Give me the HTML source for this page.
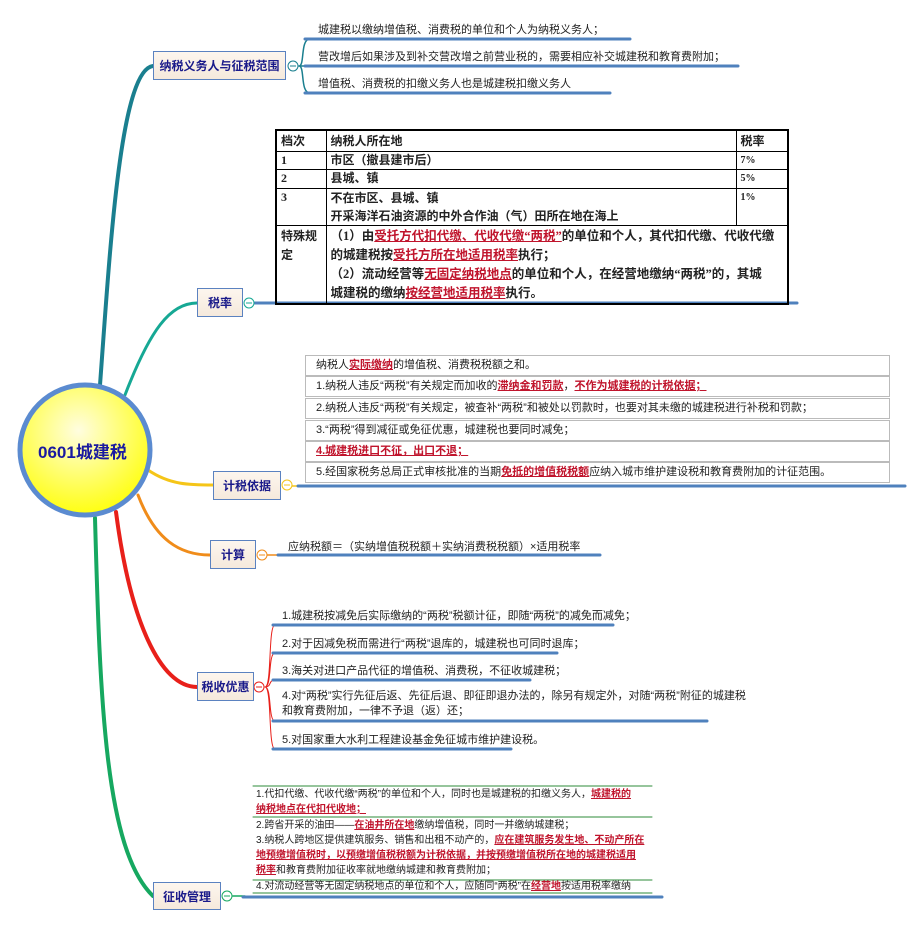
<!DOCTYPE html>
<html><head><meta charset="utf-8">
<style>
*{margin:0;padding:0;box-sizing:border-box}
body{width:918px;height:928px;background:#fff;position:relative;overflow:hidden;font-family:"Liberation Sans","Noto Sans CJK SC",sans-serif;color:#222}
.a{position:absolute;white-space:nowrap}
.node{position:absolute;border:1px solid #5b82c0;background:linear-gradient(#fdf6ee,#f5e9dc);color:#1a1a8a;font-weight:bold;font-size:12px;display:flex;align-items:center;justify-content:center}
.t{font-size:11px;color:#222}
.r{color:#c0142c;text-decoration:underline;font-weight:bold}
.ru{color:#c0142c;text-decoration:underline}
table{border-collapse:collapse;font-family:"Liberation Serif","Noto Sans CJK SC",sans-serif;font-weight:bold;font-size:12px;table-layout:fixed}
td{border:1px solid #000;padding:0 4px;vertical-align:top;line-height:17px;white-space:nowrap;overflow:hidden}
.box{position:absolute;left:305px;width:585px;border:1px solid #bbb;font-size:11px;padding-left:10px;line-height:19px;height:21px}
</style></head><body>
<svg width="918" height="928" style="position:absolute;left:0;top:0">
<g fill="none" stroke-linecap="round">
<path d="M100,385 C110,250 120,70 153,66" stroke="#1a7f8f" stroke-width="4"/>
<path d="M125,395 C150,330 170,303 197,303" stroke="#16a894" stroke-width="3"/>
<path d="M148,470 C170,485 190,485 213,485" stroke="#f5c518" stroke-width="3"/>
<path d="M138,495 C155,540 180,555 210,555" stroke="#f08c1a" stroke-width="3"/>
<path d="M116,512 C130,620 160,687 197,687" stroke="#e8201a" stroke-width="4"/>
<path d="M95,518 C100,700 105,850 153,896" stroke="#16a860" stroke-width="4"/>
<path d="M299,66 C305,66 300,39 310,39 M299,66 L310,66 M299,66 C305,66 300,93 310,93" stroke="#1a7f8f" stroke-width="1.5"/>
<path d="M305,39 H630 M305,66 H738 M305,93 H610" stroke="#4f81bd" stroke-width="3"/>
<path d="M255,303 H797" stroke="#4f81bd" stroke-width="3"/>
<path d="M292,486 H298" stroke="#f5c518" stroke-width="1.5"/>
<path d="M298,486 H905" stroke="#4f81bd" stroke-width="3"/>
<path d="M267,555 H278" stroke="#f08c1a" stroke-width="1.5"/>
<path d="M278,555 H600" stroke="#4f81bd" stroke-width="3"/>
<path d="M265,687 C272,687 268,625 275,625 M265,687 C272,687 268,653 275,653 M265,687 C272,687 268,680 275,680 M265,687 C272,687 268,721 275,721 M265,687 C272,687 268,749 275,749" stroke="#e8201a" stroke-width="1"/>
<path d="M273,625 H613 M273,653 H557 M273,680 H530 M273,721 H707 M273,749 H511" stroke="#4f81bd" stroke-width="3"/>
<path d="M233,896 H245" stroke="#16a860" stroke-width="1.5"/>
<path d="M243,897 H662" stroke="#4f81bd" stroke-width="3"/>
<path d="M253,786 H652 M253,817 H652 M253,880 H652 M253,893 H652" stroke="#2e8b3a" stroke-width="1"/>
</g>
<g fill="#fff" stroke-width="1">
<circle cx="293" cy="66" r="5" stroke="#1a7f8f"/><path d="M290,66H296" stroke="#1a7f8f"/>
<circle cx="249" cy="303" r="5" stroke="#16a894"/><path d="M246,303H252" stroke="#16a894"/>
<circle cx="287" cy="485" r="5" stroke="#f5c518"/><path d="M284,485H290" stroke="#f5c518"/>
<circle cx="262" cy="555" r="5" stroke="#f08c1a"/><path d="M259,555H265" stroke="#f08c1a"/>
<circle cx="259" cy="687" r="5" stroke="#e8201a"/><path d="M256,687H262" stroke="#e8201a"/>
<circle cx="227" cy="896" r="5" stroke="#16a860"/><path d="M224,896H230" stroke="#16a860"/>
</g>
<defs><radialGradient id="g" cx="45%" cy="35%" r="70%"><stop offset="0" stop-color="#fffde0"/><stop offset="1" stop-color="#ffff00"/></radialGradient></defs>
<circle cx="85" cy="450" r="65" fill="url(#g)" stroke="#5b8bd0" stroke-width="5"/>
</svg>
<div class="a" style="left:38px;top:438px;font-size:17px;font-weight:bold;color:#1a1aa0">0601城建税</div>

<div class="node" style="left:153px;top:51px;width:133px;height:29px">纳税义务人与征税范围</div>
<div class="node" style="left:197px;top:288px;width:46px;height:29px">税率</div>
<div class="node" style="left:213px;top:471px;width:68px;height:29px">计税依据</div>
<div class="node" style="left:210px;top:540px;width:46px;height:29px">计算</div>
<div class="node" style="left:197px;top:672px;width:57px;height:29px">税收优惠</div>
<div class="node" style="left:153px;top:882px;width:68px;height:28px">征收管理</div>

<div class="a t" style="left:318px;top:21px">城建税以缴纳增值税、消费税的单位和个人为纳税义务人；</div>
<div class="a t" style="left:318px;top:48px">营改增后如果涉及到补交营改增之前营业税的，需要相应补交城建税和教育费附加；</div>
<div class="a t" style="left:318px;top:75px">增值税、消费税的扣缴义务人也是城建税扣缴义务人</div>

<table style="position:absolute;left:275px;top:129px;width:514px;border:2px solid #000">
<colgroup><col style="width:50px"><col style="width:410px"><col style="width:52px"></colgroup>
<tr style="height:21px"><td style="padding-top:2px">档次</td><td style="padding-top:2px">纳税人所在地</td><td style="padding-top:2px">税率</td></tr>
<tr style="height:18px"><td>1</td><td>市区（撤县建市后）</td><td style="font-size:10px">7%</td></tr>
<tr style="height:19px"><td>2</td><td>县城、镇</td><td style="font-size:10px">5%</td></tr>
<tr style="height:37px"><td>3</td><td style="line-height:18px">不在市区、县城、镇<br>开采海洋石油资源的中外合作油（气）田所在地在海上</td><td style="font-size:10px">1%</td></tr>
<tr style="height:76px"><td style="white-space:normal;line-height:19px;padding-top:1px">特殊规定</td><td colspan="2" style="font-size:12.5px;line-height:19px;padding-top:1px">（1）由<span class="ru">受托方代扣代缴、代收代缴“两税”</span>的单位和个人，其代扣代缴、代收代缴<br>的城建税按<span class="ru">受托方所在地适用税率</span>执行；<br>（2）流动经营等<span class="ru">无固定纳税地点</span>的单位和个人，在经营地缴纳“两税”的，其城<br>城建税的缴纳<span class="ru">按经营地适用税率</span>执行。</td></tr>
</table>

<div class="box" style="top:355px">纳税人<span class="r">实际缴纳</span>的增值税、消费税税额之和。</div>
<div class="box" style="top:376px">1.纳税人违反“两税”有关规定而加收的<span class="r">滞纳金和罚款</span>，<span class="r">不作为城建税的计税依据；</span></div>
<div class="box" style="top:398px">2.纳税人违反“两税”有关规定，被查补“两税”和被处以罚款时，也要对其未缴的城建税进行补税和罚款；</div>
<div class="box" style="top:420px">3.“两税”得到减征或免征优惠，城建税也要同时减免；</div>
<div class="box" style="top:441px"><span class="r">4.城建税进口不征，出口不退；</span></div>
<div class="box" style="top:462px">5.经国家税务总局正式审核批准的当期<span class="r">免抵的增值税税额</span>应纳入城市维护建设税和教育费附加的计征范围。</div>

<div class="a t" style="left:288px;top:538px">应纳税额＝（实纳增值税税额＋实纳消费税税额）×适用税率</div>

<div class="a t" style="left:282px;top:607px">1.城建税按减免后实际缴纳的“两税”税额计征，即随“两税”的减免而减免；</div>
<div class="a t" style="left:282px;top:635px">2.对于因减免税而需进行“两税”退库的，城建税也可同时退库；</div>
<div class="a t" style="left:282px;top:662px">3.海关对进口产品代征的增值税、消费税，不征收城建税；</div>
<div class="a t" style="left:282px;top:689px;line-height:15px">4.对“两税”实行先征后返、先征后退、即征即退办法的，除另有规定外，对随“两税”附征的城建税<br>和教育费附加，一律不予退（返）还；</div>
<div class="a t" style="left:282px;top:731px">5.对国家重大水利工程建设基金免征城市维护建设税。</div>

<div class="a" style="left:256px;top:787px;font-size:10px;line-height:15px">1.代扣代缴、代收代缴“两税”的单位和个人，同时也是城建税的扣缴义务人，<span class="r">城建税的</span><br><span class="r">纳税地点在代扣代收地；</span></div>
<div class="a" style="left:256px;top:818px;font-size:10px;line-height:15px">2.跨省开采的油田——<span class="r">在油井所在地</span>缴纳增值税，同时一并缴纳城建税；<br>3.纳税人跨地区提供建筑服务、销售和出租不动产的，<span class="r">应在建筑服务发生地、不动产所在</span><br><span class="r">地预缴增值税时，以预缴增值税税额为计税依据，并按预缴增值税所在地的城建税适用</span><br><span class="r">税率</span>和教育费附加征收率就地缴纳城建和教育费附加；</div>
<div class="a" style="left:256px;top:880px;font-size:10px;line-height:13px">4.对流动经营等无固定纳税地点的单位和个人，应随同“两税”在<span class="r">经营地</span>按适用税率缴纳</div>
</body></html>
